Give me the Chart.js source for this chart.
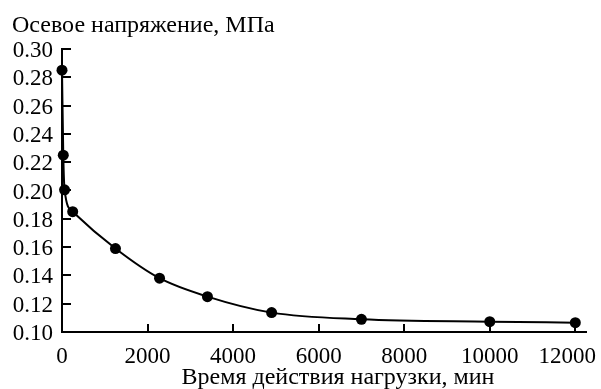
<!DOCTYPE html>
<html>
<head>
<meta charset="utf-8">
<script src="https://cdn.jsdelivr.net/npm/chart.js@4/dist/chart.umd.min.js"></script>
<style>
html,body{margin:0;padding:0;background:#fff;}
#wrap{width:601px;height:389px;}
</style>
</head>
<body>
<div id="wrap"><canvas id="c" width="601" height="389"></canvas></div>
<script>
const timeMin = [0, 30, 60, 250, 1250, 2280, 3400, 4900, 7000, 10000, 12000];
const stressMPa = [0.285, 0.225, 0.2005, 0.185, 0.159, 0.138, 0.125, 0.1137, 0.109, 0.1073, 0.1066];
const xTicks = [0, 2000, 4000, 6000, 8000, 10000, 12000];
const yTicks = [0.10, 0.12, 0.14, 0.16, 0.18, 0.20, 0.22, 0.24, 0.26, 0.28, 0.30];
const yTitle = 'Осевое напряжение, МПа';
const xTitle = 'Время действия нагрузки, мин';

const FONT = '"Liberation Serif", "Times New Roman", serif';

const inwardTicks = {
  id: 'inwardTicks',
  afterDatasetsDraw(chart) {
    const {ctx, chartArea, scales, width} = chart;
    ctx.save();
    ctx.strokeStyle = '#000';
    ctx.lineWidth = 2;
    ctx.beginPath();
    xTicks.forEach(v => {
      const px = Math.round(scales.x.getPixelForValue(v));
      ctx.moveTo(px, chartArea.bottom);
      ctx.lineTo(px, chartArea.bottom - 8);
    });
    yTicks.forEach(v => {
      const py = Math.round(scales.y.getPixelForValue(v));
      ctx.moveTo(chartArea.left, py);
      ctx.lineTo(chartArea.left + 9, py);
    });
    ctx.stroke();
    ctx.fillStyle = '#000';
    // x tick labels (kept inside the canvas like the reference)
    ctx.font = '23px ' + FONT;
    ctx.textBaseline = 'alphabetic';
    ctx.textAlign = 'left';
    xTicks.forEach(v => {
      const s = String(v);
      const w = ctx.measureText(s).width;
      let cx = scales.x.getPixelForValue(v);
      cx = Math.min(cx, width - 5 - w / 2);
      ctx.fillText(s, cx - w / 2, chartArea.bottom + 31);
    });
    ctx.font = '24px ' + FONT;
    ctx.fillText(yTitle, 12, 32);
    ctx.textAlign = 'center';
    ctx.fillText(xTitle, 338, 384);
    ctx.restore();
  }
};

new Chart(document.getElementById('c'), {
  type: 'scatter',
  data: {
    datasets: [{
      data: timeMin.map((t, i) => ({x: t, y: stressMPa[i]})),
      showLine: true,
      borderColor: '#000',
      backgroundColor: '#000',
      borderWidth: 2,
      pointRadius: 5.5,
      pointBackgroundColor: '#000',
      pointBorderWidth: 0,
      cubicInterpolationMode: 'monotone',
      tension: 0.4,
      clip: false
    }]
  },
  options: {
    responsive: false,
    animation: false,
    devicePixelRatio: 1,
    layout: {padding: {top: 49, right: 15, bottom: 0, left: 0}},
    plugins: {legend: {display: false}, tooltip: {enabled: false}, title: {display: false}},
    scales: {
      x: {
        type: 'linear',
        min: 0,
        max: 12250,
        grid: {display: false},
        border: {display: true, color: '#000', width: 2},
        ticks: {display: false},
        afterBuildTicks: s => { s.ticks = xTicks.map(v => ({value: v})); },
        afterFit: s => { s.height = 57; s.paddingLeft = 0; s.paddingRight = 0; }
      },
      y: {
        type: 'linear',
        min: 0.10,
        max: 0.30,
        grid: {display: false},
        border: {display: true, color: '#000', width: 2},
        ticks: {
          color: '#000',
          font: {family: FONT, size: 23},
          padding: 1,
          labelOffset: 2,
          autoSkip: false,
          callback: v => Number(v).toFixed(2)
        },
        afterBuildTicks: s => { s.ticks = yTicks.map(v => ({value: v})); },
        afterFit: s => { s.width = 62; s.paddingTop = 0; s.paddingBottom = 0; }
      }
    }
  },
  plugins: [inwardTicks]
});
</script>
</body>
</html>
